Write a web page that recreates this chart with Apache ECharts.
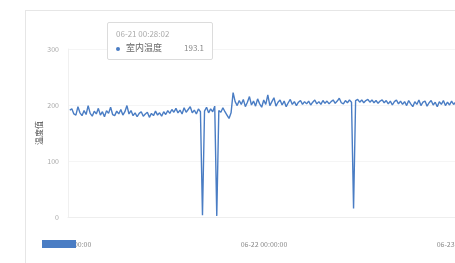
<!DOCTYPE html>
<html>
<head>
<meta charset="utf-8">
<script src="https://cdn.jsdelivr.net/npm/echarts@6/dist/echarts.min.js"></script>
<style>
  html, body { margin: 0; padding: 0; background: #fff; }
  .card {
    position: absolute;
    left: 25px;
    top: 10px;
    width: 520px;
    height: 320px;
    border: 1px solid #e6e6e6;
  }
  #chart {
    position: absolute;
    left: 0;
    top: 0;
    width: 455px;
    height: 263px;
  }
</style>
</head>
<body>
<div class="card"></div>
<div id="chart"></div>
<script>
// readings every 15 minutes, starting 06-21 00:13:02
const seriesName = '室内温度'
const yAxisName = '温度值'
const startTime = new Date(2023, 5, 21, 0, 13, 2).getTime()
const stepMinutes = 15
const axisStart = new Date(2023, 5, 21, 0, 0, 0).getTime()
const axisEnd = new Date(2023, 5, 23, 0, 0, 0).getTime()
const yTicks = [0, 100, 200, 300]

const values = [
  191, 193.1, 184, 182, 197, 186, 181, 190, 183, 199, 185, 180, 189, 184, 194, 182,
  188, 179, 190, 185, 196, 183, 181, 189, 184, 192, 182, 188, 199, 184, 190,
  181, 186, 179, 185, 188, 180, 184, 187, 178, 185, 181, 189, 182, 186, 180, 188, 183,
  190, 185, 192, 187, 194, 186, 191, 184, 195, 187, 192, 197, 186, 191, 184, 193,
  188, 3, 189, 196, 186, 193, 188, 198, 2, 190, 187, 195, 188,
  182, 176, 186,
  222, 206, 199, 208, 201, 210, 197, 205, 215, 200, 207, 198, 211, 202, 196, 209,
  201, 218, 199, 206, 213, 198, 205, 209, 200, 207, 197, 204, 210, 201, 206, 199,
  205, 208, 201, 206, 202, 207, 200, 205, 209, 202, 206, 201, 208, 203, 207, 202,
  206, 209, 203, 207, 212, 204, 202, 208, 204, 209, 205, 15, 208, 210, 205, 209,
  204, 208, 210, 205, 209, 204, 208, 203, 207, 209, 204, 208, 202, 207, 200, 206,
  209, 202, 207, 201, 206, 199, 208, 202, 197, 206, 201, 209, 199, 205, 207, 198,
  204, 208, 200, 205, 197, 206, 201, 208, 199, 205, 200, 207, 201, 205
]

const pad = (n) => (n < 10 ? '0' + n : '' + n)
const fmtTime = (t) => {
  const d = new Date(t)
  return pad(d.getMonth() + 1) + '-' + pad(d.getDate()) + ' ' +
    pad(d.getHours()) + ':' + pad(d.getMinutes()) + ':' + pad(d.getSeconds())
}

const seriesData = values.map((v, i) => [startTime + i * stepMinutes * 60000, v])

const chart = echarts.init(document.getElementById('chart'))
const option = {
  animation: false,
  textStyle: { fontFamily: 'Noto Sans CJK SC, Noto Sans, sans-serif' },
  color: ['#4a7dc4'],
  grid: {
    left: 68,
    right: -5,
    top: 49,
    bottom: 46,
    outerBoundsMode: 'none'
  },
  tooltip: {
    trigger: 'axis',
    alwaysShowContent: true,
    transitionDuration: 0,
    position: [107, 22],
    axisPointer: { type: 'none' },
    backgroundColor: '#fff',
    borderColor: '#dcdcdc',
    borderWidth: 1,
    padding: [4, 8],
    extraCssText: 'box-shadow:none;border-radius:2px;width:88px;',
    formatter: (params) => {
      const p = params[0]
      return '<div style="font-size:8px;color:#aaa;line-height:13px">' + fmtTime(p.value[0]) + '</div>' +
        '<div style="font-size:9px;color:#666;line-height:15px;display:flex;justify-content:space-between">' +
        '<span><span style="display:inline-block;width:4px;height:4px;border-radius:2px;background:#4a7dc4;margin-right:6px;vertical-align:middle"></span>' +
        p.seriesName + '</span><span style="color:#888;font-size:8px">' + p.value[1] + '</span></div>'
    }
  },
  legend: {
    left: 42,
    top: 240,
    padding: 0,
    icon: 'rect',
    itemWidth: 34,
    itemHeight: 8,
    itemGap: 0,
    formatter: () => '',
    selectedMode: false,
    data: [seriesName]
  },
  xAxis: {
    type: 'time',
    min: axisStart,
    max: axisEnd,
    minInterval: 24 * 3600 * 1000,
    maxInterval: 24 * 3600 * 1000,
    axisLine: { lineStyle: { color: '#eeeeee' } },
    axisTick: { show: false },
    splitLine: { show: false },
    axisLabel: {
      margin: 24,
      fontSize: 7,
      color: '#888',
      showMinLabel: true,
      showMaxLabel: true,
      hideOverlap: false,
      formatter: (v) => fmtTime(v)
    }
  },
  yAxis: {
    type: 'value',
    min: yTicks[0],
    max: yTicks[yTicks.length - 1],
    interval: 100,
    name: yAxisName,
    nameLocation: 'middle',
    nameRotate: 90,
    nameGap: 25,
    nameMoveOverlap: false,
    nameTextStyle: { fontSize: 8, color: '#555' },
    axisLine: { show: true, lineStyle: { color: '#f0f0f0' } },
    axisTick: { show: false },
    splitLine: { lineStyle: { color: '#f5f5f5' } },
    axisLabel: { fontSize: 7, color: '#aaa', margin: 9 }
  },
  series: [
    {
      name: seriesName,
      type: 'line',
      symbol: 'none',
      lineStyle: { width: 1.4 },
      emphasis: { disabled: true },
      data: seriesData
    }
  ]
}
chart.setOption(option)
chart.dispatchAction({ type: 'showTip', seriesIndex: 0, dataIndex: 1 })
</script>
</body>
</html>
